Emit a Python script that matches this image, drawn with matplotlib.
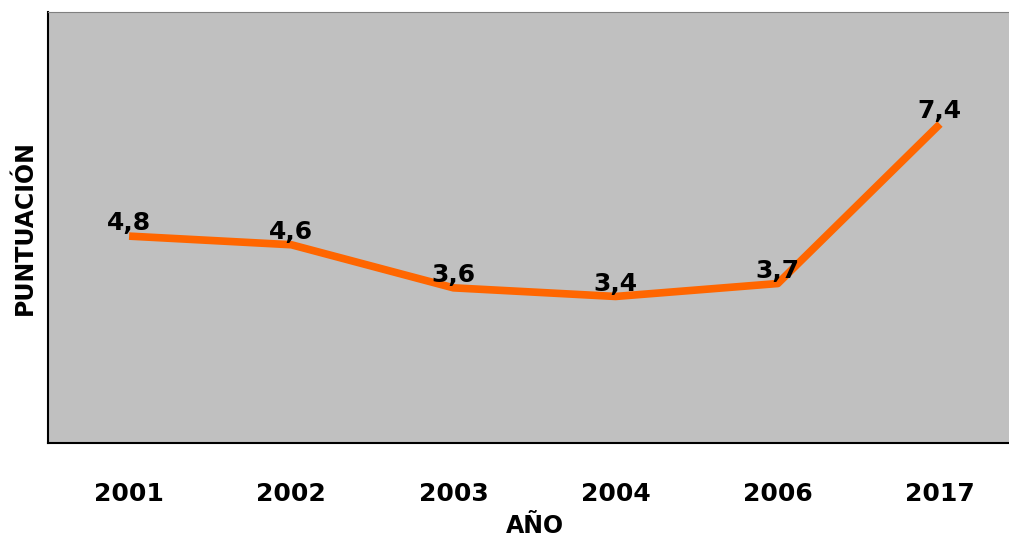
import matplotlib.pyplot as plt

years = ['2001', '2002', '2003', '2004', '2006', '2017']
scores = [4.8, 4.6, 3.6, 3.4, 3.7, 7.4]

fig = plt.figure(figsize=(10.09, 5.4), dpi=100)
ax = fig.add_axes([48/1009, 97/540, 973/1009, 431/540])
ax.set_facecolor('#C0C0C0')

x = range(len(years))
ax.plot(x, scores, color='#FF6600', linewidth=5.5, solid_capstyle='butt')
for xi, v in zip(x, scores):
    ax.text(xi, v + 0.02, f'{v:.1f}'.replace('.', ','), ha='center', va='bottom',
            fontsize=18, fontweight='bold')

ax.set_xlim(-0.5, len(years) - 0.5)
ax.set_ylim(0, 10)
ax.set_xticks(list(x))
ax.set_xticklabels(years, fontsize=18, fontweight='bold')
ax.tick_params(axis='x', length=0, pad=28)
ax.set_yticks([])
ax.set_xlabel('AÑO', fontsize=17, fontweight='bold', labelpad=6)
ax.set_ylabel('PUNTUACIÓN', fontsize=17, fontweight='bold', labelpad=8)
for s in ['top', 'right']:
    ax.spines[s].set_color('#808080')
for s in ['left', 'bottom']:
    ax.spines[s].set_color('black')
    ax.spines[s].set_linewidth(1.5)

fig.savefig('out.png', dpi=100)
